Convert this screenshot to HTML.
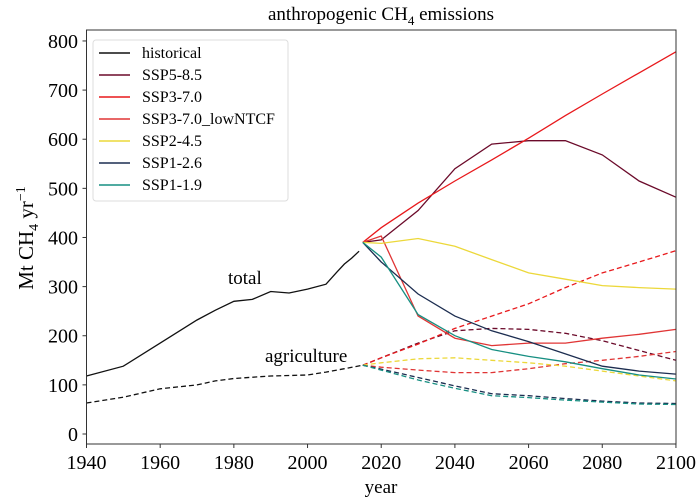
<!DOCTYPE html>
<html><head><meta charset="utf-8"><style>
body{margin:0;background:#fff}
svg{font-family:"Liberation Serif",serif}
</style></head><body>
<svg id="s" width="700" height="499" viewBox="0 0 700 499" xmlns="http://www.w3.org/2000/svg">
<rect width="700" height="499" fill="#fff"/>
<text x="381" y="20" font-size="19" text-anchor="middle">anthropogenic CH<tspan font-size="13" dy="5">4</tspan><tspan dy="-5"> emissions</tspan></text>
<text x="381" y="493" font-size="19" text-anchor="middle">year</text>
<text transform="translate(33,238) rotate(-90)" font-size="21" text-anchor="middle">Mt CH<tspan font-size="14" dy="5">4</tspan><tspan dy="-5"> yr</tspan><tspan font-size="14" dy="-8">−1</tspan></text>
<text x="228" y="284" font-size="19">total</text>
<text x="265" y="362" font-size="19">agriculture</text>
<g id="g"></g>
<rect x="86.5" y="30" width="589.5" height="414" fill="none" stroke="#333" stroke-width="1"/>
<g id="ax" font-size="20"></g>
<rect x="93" y="40" width="195" height="161" rx="3" fill="#fff" fill-opacity="0.85" stroke="#ddd"/>
<g id="lg" font-size="16"></g>
</svg>
<script>
const X=y=>86.5+(y-1940)*3.684, Y=v=>434-v*0.4913;
const NS="http://www.w3.org/2000/svg";
function line(pts,col,dash,w){const p=document.createElementNS(NS,"path");
p.setAttribute("d","M"+pts.map(a=>X(a[0]).toFixed(1)+","+Y(a[1]).toFixed(1)).join("L"));
p.setAttribute("fill","none");p.setAttribute("stroke",col);p.setAttribute("stroke-width",w||1.3);
if(dash)p.setAttribute("stroke-dasharray","5,3");document.getElementById("g").appendChild(p);}
const yrs=[2015,2020,2030,2040,2050,2060,2070,2080,2090,2100];
const z=v=>v.map((a,i)=>[yrs[i],a]);
const C={h:"#111",s5:"#6b0a2a",s3:"#e8191c",lo:"#e03535",s2:"#ecd83a",s126:"#1c2d50",s119:"#178f82"};
line([[1940,118],[1950,138],[1960,185],[1970,232],[1975,252],[1980,270],[1985,274],[1990,290],[1995,287],[2000,295],[2005,305],[2008,330],[2010,346],[2012,358],[2014,372]],C.h);
line([[1940,63],[1950,75],[1960,92],[1970,100],[1975,108],[1980,113],[1990,118],[2000,120],[2005,126],[2010,133],[2015,140]],C.h,1);
line(z([140,155,185,210,215,213,205,190,170,150]),C.s5,1);
line(z([140,155,183,215,240,265,298,328,350,373]),C.s3,1);
line(z([140,136,130,125,125,133,143,150,158,168]),C.lo,1);
line(z([140,145,153,155,150,145,138,128,118,108]),C.s2,1);
line(z([140,132,115,98,82,78,72,67,63,62]),C.s126,1);
line(z([140,130,110,93,78,74,69,65,61,60]),C.s119,1);
line(z([390,395,455,540,590,597,597,568,515,482]),C.s5);
line(z([390,420,470,515,558,602,648,692,735,778]),C.s3);
line(z([390,403,240,195,180,185,185,195,203,213]),C.lo);
line(z([390,388,398,382,355,328,315,302,298,295]),C.s2);
line(z([390,350,285,240,210,188,163,138,128,122]),C.s126);
line(z([390,360,243,200,172,158,147,133,120,112]),C.s119);
const ax=document.getElementById("ax");
for(let y=1940;y<=2100;y+=20){ax.innerHTML+=`<line x1="${X(y)}" x2="${X(y)}" y1="444" y2="448" stroke="#333"/><text x="${X(y)}" y="469" text-anchor="middle">${y}</text>`;}
for(let v=0;v<=800;v+=100){ax.innerHTML+=`<line x1="82.5" x2="86.5" y1="${Y(v)}" y2="${Y(v)}" stroke="#333"/><text x="78" y="${Y(v)+7}" text-anchor="end">${v}</text>`;}
const L=[["historical",C.h],["SSP5-8.5",C.s5],["SSP3-7.0",C.s3],["SSP3-7.0_lowNTCF",C.lo],["SSP2-4.5",C.s2],["SSP1-2.6",C.s126],["SSP1-1.9",C.s119]];
const lg=document.getElementById("lg");
L.forEach((l,i)=>{const y=53+i*22;lg.innerHTML+=`<line x1="99" x2="130" y1="${y}" y2="${y}" stroke="${l[1]}" stroke-width="1.5"/><text x="142" y="${y+5}">${l[0]}</text>`;});
</script>
</body></html>
